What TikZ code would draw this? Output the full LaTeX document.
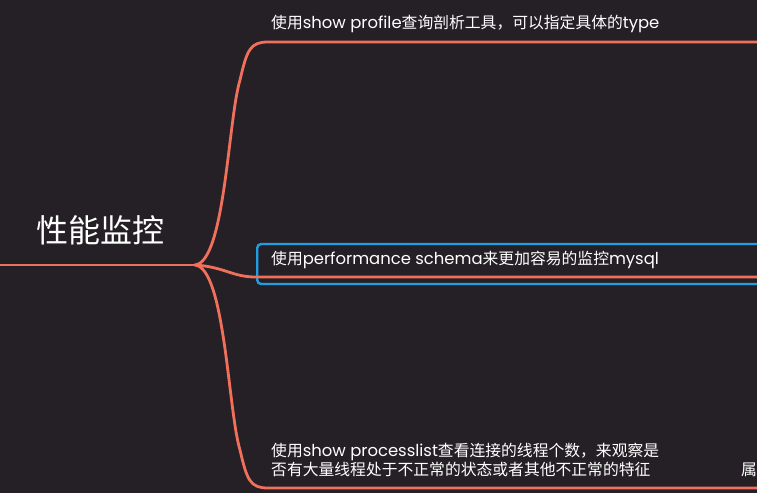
\documentclass[tikz,border=0pt]{standalone}
\usepackage{fontspec}
\setmainfont{Noto Sans CJK SC}
\newfontfamily\lat{Poppins}[Scale=1.04]
\usepackage{tikz}
\usetikzlibrary{positioning, calc}
\definecolor{bgdark}{RGB}{37,32,37}
\definecolor{coral}{RGB}{240,112,92}
\definecolor{selblue}{RGB}{32,158,228}
\tikzstyle{branch}=[line width=2.8pt, color=coral, line cap=round]

\begin{document}
\begin{tikzpicture}[x=1pt, y=-1pt,
  topic/.style={text=white, font=\fontsize{32}{36}\selectfont, inner sep=0pt},
  leaf/.style={text=white, font=\fontsize{15.8}{19}\selectfont, inner sep=0pt,
               anchor=west, align=left},
  picked/.style={draw=selblue, line width=2.4pt, rounded corners=4pt,
                 minimum width=520pt, minimum height=40pt}
]
\useasboundingbox (0,0) rectangle (757,493);
\fill[bgdark] (0,0) rectangle (757,493);

\node[topic] (root) at (100,230) {性能监控};
\coordinate (rootend) at (0,265);
\coordinate (junc) at (195,265);

% selected branch box
\node[picked, anchor=west] (box) at (256,264) {};

\node[leaf] (prof)  at (271,24) {使用{\lat show profile}查询剖析工具，可以指定具体的{\lat type}};
\node[leaf] (perf)  at (271,260) {使用{\lat performance schema}来更加容易的监控{\lat mysql}};
\node[leaf] (plist) at (271,460) {使用{\lat show processlist}查看连接的线程个数，来观察是\\否有大量线程处于不正常的状态或者其他不正常的特征};
\node[leaf] (cut)   at (741,470) {属};

\coordinate (profend)  at (757,42);
\coordinate (perfend)  at (757,277);
\coordinate (plistend) at (757,488);

\draw[branch] (rootend) -- (junc);
\draw[branch] (junc) .. controls (225,262) and (228,120) .. (240,80)
  .. controls (247,50) and (250,42) .. (268,42) -- (profend);
\draw[branch] (junc) .. controls (225,267) and (232,277) .. (256,277) -- (perfend);
\draw[branch] (junc) .. controls (225,268) and (228,410) .. (240,450)
  .. controls (247,480) and (250,488) .. (268,488) -- (plistend);
\end{tikzpicture}
\end{document}
